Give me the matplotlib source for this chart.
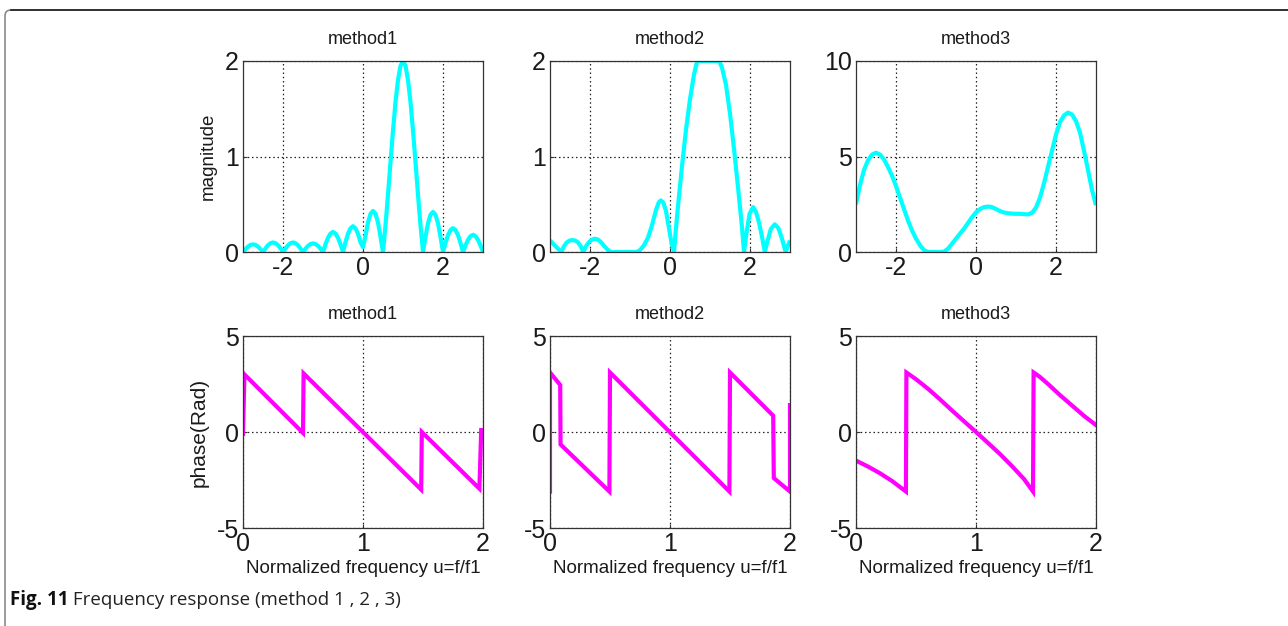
import numpy as np
import matplotlib
matplotlib.use("Agg")
import matplotlib.pyplot as plt
from matplotlib.patches import FancyBboxPatch
from matplotlib.lines import Line2D

plt.rcParams['font.family'] = ['Liberation Sans', 'DejaVu Sans']
plt.rcParams['axes.unicode_minus'] = False

# ---- magnitude, method 1 (u = -3 .. 3, step 1/16) ----
mag1_u = np.linspace(-3, 3, 97)
mag1 = [0.0, 0.03, 0.057, 0.074, 0.08, 0.074, 0.057, 0.03,
        0.0, 0.038, 0.071, 0.092, 0.10, 0.092, 0.071, 0.038,
        0.0, 0.038, 0.071, 0.092, 0.10, 0.092, 0.071, 0.038,
        0.0, 0.034, 0.064, 0.083, 0.09, 0.083, 0.064, 0.034,
        0.0, 0.08, 0.149, 0.193, 0.21, 0.193, 0.149, 0.08,
        0.0, 0.103, 0.191, 0.248, 0.27, 0.248, 0.191, 0.103,
        0.05, 0.17, 0.31, 0.40, 0.43, 0.40, 0.31, 0.16,
        0.0, 0.28, 0.60, 0.94, 1.27, 1.57, 1.80, 1.95,
        2.0, 1.95, 1.80, 1.57, 1.27, 0.94, 0.60, 0.28,
        0.0, 0.16, 0.30, 0.39, 0.42, 0.39, 0.30, 0.16,
        0.0, 0.095, 0.177, 0.23, 0.25, 0.23, 0.177, 0.095,
        0.0, 0.069, 0.127, 0.166, 0.18, 0.166, 0.127, 0.069,
        0.0]

# ---- magnitude, method 2 ----
mag2_u = [-3.0, -2.93, -2.86, -2.79, -2.72, -2.65, -2.58, -2.51, -2.44, -2.37,
          -2.30, -2.23, -2.17, -2.10, -2.03, -1.95, -1.88, -1.80, -1.72, -1.64,
          -1.56, -1.48, -0.83, -0.75, -0.65, -0.55, -0.45, -0.35, -0.28, -0.23,
          -0.17, -0.10, -0.03, 0.04, 0.10, 0.15, 0.2, 0.3, 0.4, 0.5,
          0.6, 0.68, 0.8, 0.95, 1.1, 1.23, 1.3, 1.4, 1.5, 1.6,
          1.7, 1.8, 1.85, 1.92, 1.99, 2.08, 2.15, 2.23, 2.30, 2.37,
          2.44, 2.52, 2.62, 2.71, 2.80, 2.89, 2.95, 3.0]
mag2 = [0.12, 0.09, 0.06, 0.03, 0.0, 0.06, 0.10, 0.12, 0.125, 0.12,
        0.10, 0.06, 0.0, 0.06, 0.10, 0.13, 0.14, 0.13, 0.10, 0.06,
        0.025, 0.0, 0.0, 0.02, 0.07, 0.15, 0.28, 0.44, 0.52, 0.54,
        0.52, 0.43, 0.26, 0.09, 0.0, 0.25, 0.48, 0.90, 1.28, 1.60,
        1.86, 2.0, 2.0, 2.0, 2.0, 2.0, 1.93, 1.75, 1.45, 1.08,
        0.68, 0.26, 0.0, 0.22, 0.40, 0.47, 0.42, 0.30, 0.16, 0.0,
        0.12, 0.24, 0.29, 0.25, 0.14, 0.0, 0.07, 0.12]

# ---- magnitude, method 3 (u = -3 .. 3, step 0.1) ----
mag3_u = np.linspace(-3, 3, 61)
mag3 = [2.5, 3.5, 4.3, 4.8, 5.1, 5.2, 5.1, 4.85, 4.45, 4.0,
        3.45, 2.85, 2.25, 1.65, 1.13, 0.7, 0.35, 0.1, 0.0, 0.0,
        0.0, 0.0, 0.02, 0.17, 0.43, 0.7, 0.96, 1.22, 1.52, 1.82,
        2.08, 2.25, 2.35, 2.38, 2.35, 2.25, 2.14, 2.07, 2.03, 2.01,
        2.0, 2.0, 1.98, 1.97, 2.05, 2.32, 2.85, 3.6, 4.45, 5.3,
        6.15, 6.8, 7.15, 7.3, 7.2, 6.85, 6.25, 5.3, 4.3, 3.25,
        2.45]

# ---- phase (rad) ----
ph1_u = [0.0, 0.012, 0.5, 0.505, 1.485, 1.49, 1.97, 1.985]
ph1 = [-0.1, 3.0, -0.05, 3.05, -3.0, 0.0, -2.95, 0.1]

ph2_u = [0.0, 0.0, 0.085, 0.088, 0.495, 0.5, 1.495, 1.5, 1.86, 1.865, 2.0, 2.0]
ph2 = [-3.1, 3.1, 2.45, -0.65, -3.1, 3.1, -3.1, 3.1, 0.85, -2.4, -3.1, 1.4]

ph3_u = [0.0, 0.1, 0.2, 0.3, 0.416, 0.42, 0.5, 0.6, 0.7, 0.8,
         0.9, 1.0, 1.1, 1.2, 1.3, 1.4, 1.475, 1.48, 1.53, 1.6,
         1.7, 1.8, 1.9, 2.0]
ph3 = [-1.49, -1.8, -2.15, -2.55, -3.1, 3.1, 2.75, 2.25, 1.7, 1.12,
       0.56, 0.0, -0.57, -1.15, -1.78, -2.45, -3.1, 3.1, 2.88, 2.5,
       1.92, 1.38, 0.84, 0.36]

titles = ['method1', 'method2', 'method3']
xlabel = 'Normalized frequency u=f/f1'
caption_bold = 'Fig. 11'
caption_rest = ' Frequency response (method 1 , 2 , 3)'

W, H = 1288, 626
fig = plt.figure(figsize=(W / 100, H / 100), dpi=100)

lefts = [243, 550, 856]
aw = 240
top_row = (61, 252)
bot_row = (336, 528)


def make_ax(left, rows):
    t, b = rows
    return fig.add_axes([left / W, 1 - b / H, aw / W, (b - t) / H])


def style(ax):
    for s in ax.spines.values():
        s.set_color('#333333')
        s.set_linewidth(0.9)
    ax.tick_params(direction='in', length=3, width=0.8, colors='#333333',
                   labelcolor='#1a1a1a', labelsize=18, pad=3)
    ax.grid(True, color='#222222', linestyle=(0, (1.2, 2.2)), linewidth=0.9)
    ax.set_axisbelow(True)


cyan = '#00ffff'
magenta = '#ff00ff'

mags = [(mag1_u, mag1, 2), (mag2_u, mag2, 2), (mag3_u, mag3, 10)]
for i, (u, m, top) in enumerate(mags):
    ax = make_ax(lefts[i], top_row)
    style(ax)
    ax.plot(u, m, color=cyan, linewidth=3, solid_capstyle='butt')
    ax.set_xlim(-3, 3)
    ax.set_ylim(0, top)
    ax.set_xticks([-2, 0, 2])
    ax.set_yticks([0, top / 2, top])
    ax.set_yticklabels(['0', '%g' % (top / 2), '%g' % top])
    ax.set_title(titles[i], fontsize=13, pad=12, color='#1a1a1a')
    if i == 0:
        ax.set_ylabel('magnitude', fontsize=13.5, color='#1a1a1a', labelpad=6)

phases = [(ph1_u, ph1), (ph2_u, ph2), (ph3_u, ph3)]
for i, (u, p) in enumerate(phases):
    ax = make_ax(lefts[i], bot_row)
    style(ax)
    ax.plot(u, p, color=magenta, linewidth=3, solid_joinstyle='miter')
    ax.set_xlim(0, 2)
    ax.set_ylim(-5, 5)
    ax.set_xticks([0, 1, 2])
    ax.set_yticks([-5, 0, 5])
    ax.set_title(titles[i], fontsize=13, pad=12, color='#1a1a1a')
    ax.set_xlabel(xlabel, fontsize=13.5, color='#1a1a1a', labelpad=3)
    if i == 0:
        ax.set_ylabel('phase(Rad)', fontsize=15, color='#1a1a1a', labelpad=6)

# page frame: rounded top-left corner, open to the right and bottom
frame = FancyBboxPatch((0.05, -0.5), 13.5, 6.26 - 0.10 + 0.5,
                       boxstyle='round,pad=0,rounding_size=0.06',
                       transform=fig.dpi_scale_trans, fill=False,
                       edgecolor='#8a8a8a', linewidth=1.2, clip_on=False)
fig.patches.append(frame)
fig.add_artist(Line2D([0.11 / 12.88, 1.0], [1 - 10 / H, 1 - 10 / H],
                      transform=fig.transFigure, color='#2a2a2a', linewidth=1.3))

# caption
t1 = fig.text(10 / W, 1 - 600 / H, caption_bold, fontsize=13.5, fontweight='bold',
              family=['Open Sans', 'DejaVu Sans'], va='center', ha='left', color='#111111')
fig.canvas.draw()
bb = t1.get_window_extent()
fig.text(bb.x1 / W, 1 - 600 / H, caption_rest, fontsize=13.5,
         family=['Open Sans', 'DejaVu Sans'], va='center', ha='left', color='#222222')

fig.savefig('out.png', dpi=100)
